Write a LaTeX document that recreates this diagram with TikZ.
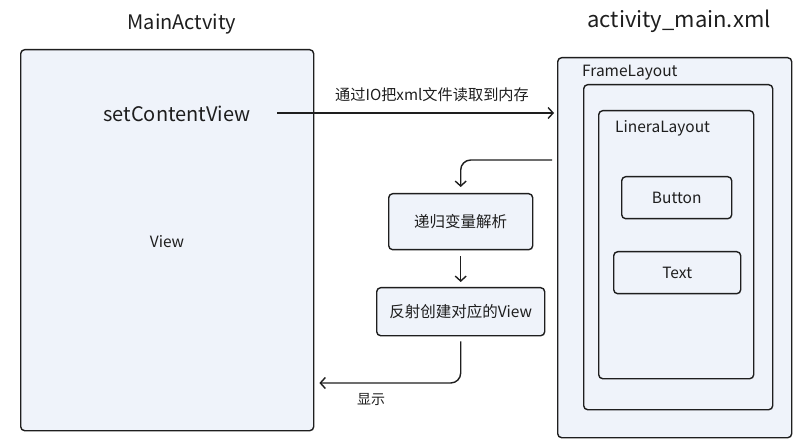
\documentclass[tikz,border=0pt]{standalone}
\usepackage{fontspec}
\setmainfont{Noto Sans CJK SC}
\usetikzlibrary{arrows.meta}
\definecolor{boxfill}{RGB}{239,243,250}
\definecolor{ink}{RGB}{30,30,30}
\begin{document}
\begin{tikzpicture}[x=1pt,y=-1pt,
  box/.style={draw=ink, fill=boxfill, line width=1.4pt, rounded corners=4pt, anchor=north west, inner sep=0pt},
  conn/.style={draw=ink, line width=1.4pt, -{Straight Barb[length=5pt,width=11pt,line width=1.4pt]}, rounded corners=10pt},
  lbl/.style={text=ink, inner sep=0pt},
  big/.style={font=\fontsize{20}{24}\selectfont},
  mid/.style={font=\fontsize{15.5}{18}\selectfont}]
\useasboundingbox (0,0) rectangle (797,443);
% left box
\node[box, minimum width=293pt, minimum height=381pt] (main) at (20,49) {};
\node[lbl, big] (maint) at (182,24) {MainActvity};
\node[lbl, big] (scv) at (177,114) {setContentView};
\node[lbl, mid] (view) at (167,242) {View};
% right boxes
\node[lbl, font=\fontsize{22}{26}\selectfont] (xmlt) at (679,21) {activity\_main.xml};
\node[box, minimum width=234pt, minimum height=380pt] (outer) at (557,57) {};
\node[lbl, mid, anchor=west] (flt) at (582,73) {FrameLayout};
\node[box, minimum width=189pt, minimum height=325pt] (frame) at (583,84) {};
\node[box, minimum width=155pt, minimum height=268pt] (linear) at (598,110) {};
\node[lbl, mid, anchor=west] (llt) at (615,128) {LineraLayout};
\node[box, minimum width=110pt, minimum height=42pt] (button) at (621,176) {};
\node[lbl, mid] at (button.center) {Button};
\node[box, minimum width=127pt, minimum height=42pt] (text) at (613,251) {};
\node[lbl, mid] at (text.center) {Text};
% process boxes
\node[box, minimum width=144pt, minimum height=56pt] (p1) at (388,193) {};
\node[lbl, mid] at (p1.center) {递归变量解析};
\node[box, minimum width=168pt, minimum height=48pt] (p2) at (376,287) {};
\node[lbl, mid] at (p2.center) {反射创建对应的View};
% connectors
\coordinate (s0) at (277,113);
\draw[conn, shorten >=3pt] (s0) -- (outer.west |- s0);
\node[lbl, font=\fontsize{15.2}{18}\selectfont] (iolbl) at (432,95) {通过IO把xml文件读取到内存};
\coordinate (c1) at (552,160);
\draw[conn, shorten >=6pt] (c1) -| (p1.north);
\draw[conn, shorten <=6pt, shorten >=5pt] (p1.south) -- (p2.north);
\coordinate (c2) at (0,383);
\draw[conn, shorten <=5pt, shorten >=5pt] (p2.south) |- (main.east |- c2);
\node[lbl, font=\fontsize{14}{17}\selectfont] (show) at (371,400) {显示};
\end{tikzpicture}
\end{document}
